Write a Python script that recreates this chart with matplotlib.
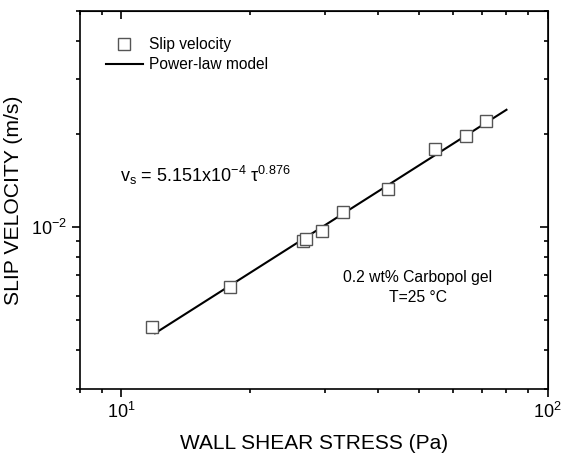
import numpy as np
import matplotlib
matplotlib.use('Agg')
import matplotlib.pyplot as plt

plt.rcParams['font.family'] = ['Liberation Sans', 'DejaVu Sans']
plt.rcParams['mathtext.fontset'] = 'custom'
plt.rcParams['mathtext.rm'] = 'Liberation Sans'
plt.rcParams['mathtext.default'] = 'regular'
plt.rcParams['axes.unicode_minus'] = False

# measured slip velocity
tau = [11.8, 18.0, 26.7, 27.1, 29.6, 33.1, 42.1, 54.3, 64.2, 71.5]
vs = [4.75e-3, 6.42e-3, 9.0e-3, 9.18e-3, 9.69e-3, 1.117e-2, 1.324e-2, 1.791e-2, 1.972e-2, 2.203e-2]

# power-law fit
k_fit = 5.151e-4
n_fit = 0.876
tau_fit = [12.0, 80.0]

fig = plt.figure(figsize=(5.63, 4.55), dpi=100)
ax = fig.add_axes([0.142, 0.145, 0.831, 0.8315])

t = np.array(tau_fit)
ax.plot(t, k_fit * t ** n_fit, color='black', lw=1.5, label='Power-law model', zorder=2)
ax.plot(tau, vs, ls='None', marker='s', ms=8, mfc='white', mec='#555555', mew=1.0,
        label='Slip velocity', zorder=3)

ax.set_xscale('log')
ax.set_yscale('log')
ax.set_xlim(8, 100)
ax.set_ylim(3e-3, 5e-2)

for s in ax.spines.values():
    s.set_linewidth(1.2)
ax.tick_params(which='both', direction='out', width=1.2, labelsize=13, pad=3)
ax.tick_params(which='major', length=6)
ax.tick_params(which='minor', length=3)
ax.yaxis.set_minor_formatter(matplotlib.ticker.NullFormatter())
ax.xaxis.set_minor_formatter(matplotlib.ticker.NullFormatter())

# inward ticks on top and right
top = ax.secondary_xaxis('top')
right = ax.secondary_yaxis('right')
for sec in (top, right):
    sec.tick_params(which='both', direction='in', width=1.2, labelsize=0)
    sec.tick_params(which='major', length=6)
    sec.tick_params(which='minor', length=3)
top.set_xticklabels([])
top.xaxis.set_minor_formatter(matplotlib.ticker.NullFormatter())
right.set_yticklabels([])
right.yaxis.set_minor_formatter(matplotlib.ticker.NullFormatter())

ax.set_xlabel('WALL SHEAR STRESS (Pa)', fontsize=15, labelpad=9)
ax.set_ylabel('SLIP VELOCITY (m/s)', fontsize=15.2, labelpad=6)

handles, labels = ax.get_legend_handles_labels()
ax.legend(handles[::-1], labels[::-1], loc='upper left', bbox_to_anchor=(0.035, 0.955),
          frameon=False, fontsize=11.2, handlelength=2.4, handletextpad=0.4,
          labelspacing=0.32, borderaxespad=0.2)

ax.text(0.085, 0.565, r'v$_\mathregular{s}$ = 5.151x10$^{\mathregular{-4}}$ τ$^{\mathregular{0.876}}$',
        transform=ax.transAxes, fontsize=13, va='center', ha='left')
ax.text(0.722, 0.268, '0.2 wt% Carbopol gel\nT=25 °C', transform=ax.transAxes,
        fontsize=11.3, ha='center', va='center', linespacing=1.4)

fig.savefig('out.png', dpi=100)
